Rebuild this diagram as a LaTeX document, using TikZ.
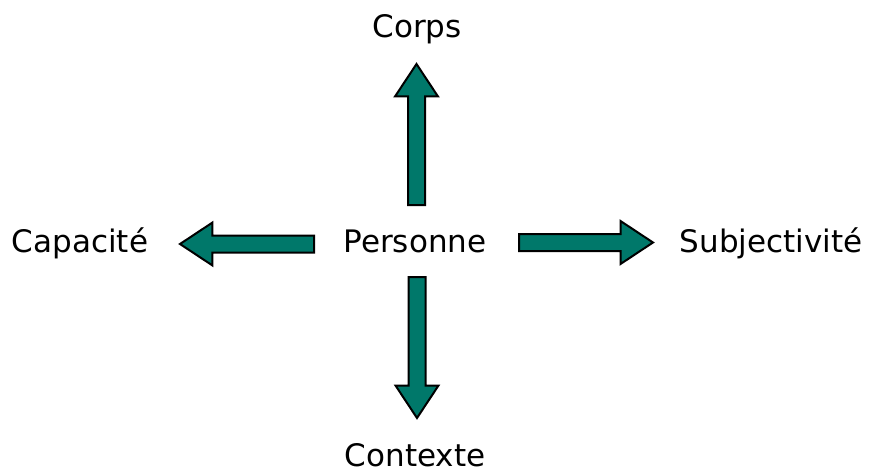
\documentclass[tikz,border=0pt]{standalone}
\usepackage{fontspec}
\setmainfont{DejaVu Sans}
\usetikzlibrary{positioning,shapes.arrows}
\definecolor{arrowteal}{RGB}{0,120,106}

\begin{document}
\begin{tikzpicture}[x=1pt,y=-1pt]
\tikzset{
    label/.style={font=\fontsize{31}{37}\selectfont, inner sep=0pt, anchor=base},
    blockarrow/.style={single arrow, draw=black, line width=2pt, fill=arrowteal, inner xsep=0pt, inner ysep=7.5pt, minimum width=41pt, single arrow head extend=13pt, single arrow tip angle=67, anchor=tail}
}
\useasboundingbox (0,0) rectangle (876,472);
\node[label] (personne) at (415,252) {Personne};
\node[label] (corps) at (417,37.5) {Corps};
\node[label] (contexte) at (415,466.5) {Contexte};
\node[label] (capacite) at (80,252) {Capacité};
\node[label] (subjectivite) at (771,252) {Subjectivité};

\node[blockarrow, minimum height=141pt, rotate=90] (versCorps) at (416.5,206) {};
\node[blockarrow, minimum height=141pt, rotate=-90] (versContexte) at (417,276) {};
\node[blockarrow, minimum height=134pt, rotate=180] (versCapacite) at (315,244) {};
\node[blockarrow, minimum height=134pt] (versSubjectivite) at (518,242.5) {};
\end{tikzpicture}
\end{document}
